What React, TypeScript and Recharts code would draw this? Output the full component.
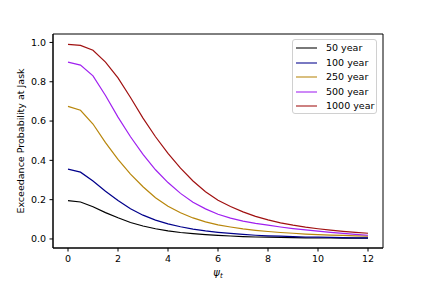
import React from "react";
import {
  LineChart,
  Line,
  XAxis,
  YAxis,
  ReferenceArea,
  Label,
} from "recharts";

const psi = [0, 0.5, 1, 1.5, 2, 2.5, 3, 3.5, 4, 4.5, 5, 5.5, 6, 6.5, 7, 7.5, 8, 8.5, 9, 9.5, 10, 10.5, 11, 11.5, 12];

const year50 = [0.195, 0.188, 0.164, 0.134, 0.108, 0.084, 0.066, 0.052, 0.041, 0.033, 0.027, 0.022, 0.018, 0.015, 0.012, 0.01, 0.009, 0.008, 0.007, 0.006, 0.005, 0.005, 0.004, 0.004, 0.004];
const year100 = [0.355, 0.34, 0.295, 0.243, 0.196, 0.154, 0.121, 0.096, 0.077, 0.062, 0.05, 0.041, 0.034, 0.028, 0.023, 0.019, 0.016, 0.014, 0.012, 0.01, 0.009, 0.008, 0.007, 0.006, 0.006];
const year250 = [0.675, 0.655, 0.585, 0.49, 0.405, 0.33, 0.266, 0.21, 0.166, 0.133, 0.107, 0.087, 0.072, 0.061, 0.051, 0.044, 0.038, 0.033, 0.029, 0.025, 0.022, 0.02, 0.018, 0.016, 0.014];
const year500 = [0.9, 0.885, 0.83, 0.73, 0.62, 0.52, 0.43, 0.352, 0.287, 0.232, 0.187, 0.153, 0.126, 0.106, 0.091, 0.079, 0.07, 0.061, 0.053, 0.046, 0.04, 0.034, 0.028, 0.023, 0.019];
const year1000 = [0.99, 0.985, 0.96, 0.9, 0.82, 0.72, 0.615, 0.52, 0.435, 0.36, 0.295, 0.24, 0.197, 0.165, 0.138, 0.115, 0.097, 0.082, 0.07, 0.06, 0.052, 0.045, 0.039, 0.034, 0.029];

const xTicks = [0, 2, 4, 6, 8, 10, 12];
const yTicks = [0, 0.2, 0.4, 0.6, 0.8, 1.0];

const seriesNames = ["50 year", "100 year", "250 year", "500 year", "1000 year"];
const seriesKeys = ["y50", "y100", "y250", "y500", "y1000"];
const seriesColors = ["#000000", "#00008b", "#b8860b", "#a020f0", "#a01010"];

const data = psi.map((p, i) => ({
  psi: p,
  y50: year50[i],
  y100: year100[i],
  y250: year250[i],
  y500: year500[i],
  y1000: year1000[i],
}));

const font = "'DejaVu Sans', sans-serif";
const xDomain = [-0.6, 12.6];
const yDomain = [-0.046, 1.043];

export default function App() {
  return (
    <div style={{ position: "absolute", left: 0, top: 0, width: 425, height: 284, background: "#fff", fontFamily: font }}>
      <LineChart
        width={425}
        height={284}
        data={data}
        margin={{ top: 34, right: 42, left: 13, bottom: 6 }}
      >
        <XAxis
          dataKey="psi"
          type="number"
          domain={xDomain}
          ticks={xTicks}
          allowDataOverflow
          height={30}
          tickSize={3.5}
          tickMargin={4}
          stroke="#000"
          tick={{ fill: "#000", fontSize: 9.5, fontFamily: font }}
        >
          <Label
            content={() => (
              <text x={218} y={276} textAnchor="middle" fontFamily={font} fontSize={10} fontStyle="italic" style={{ fill: "#000" }}>
                ψ<tspan fontSize={7} dy={2}>t</tspan>
              </text>
            )}
          />
        </XAxis>
        <YAxis
          type="number"
          domain={yDomain}
          ticks={yTicks}
          allowDataOverflow
          width={40}
          tickSize={3.5}
          tickMargin={3.5}
          stroke="#000"
          tickFormatter={(v: number) => v.toFixed(1)}
          tick={{ fill: "#000", fontSize: 9.5, fontFamily: font }}
        >
          <Label
            content={() => (
              <text
                x={24}
                y={141}
                textAnchor="middle"
                transform="rotate(-90 24 141)"
                fontFamily={font}
                fontSize={9.5}
                style={{ fill: "#000" }}
              >
                Exceedance Probability at Jask
              </text>
            )}
          />
        </YAxis>
        <ReferenceArea
          x1={xDomain[0]}
          x2={xDomain[1]}
          y1={yDomain[0]}
          y2={yDomain[1]}
          fill="none"
          stroke="#000"
          strokeWidth={1}
          ifOverflow="visible"
        />
        {seriesKeys.map((k, i) => (
          <Line
            key={k}
            type="linear"
            dataKey={k}
            name={seriesNames[i]}
            stroke={seriesColors[i]}
            strokeWidth={1.2}
            dot={false}
            isAnimationActive={false}
          />
        ))}
      </LineChart>
      <div
        style={{
          position: "absolute",
          left: 292,
          top: 39,
          width: 85,
          height: 75,
          boxSizing: "border-box",
          border: "1px solid #d0d0d0",
          borderRadius: 3,
          background: "rgba(255,255,255,0.8)",
        }}
      >
        {seriesNames.map((name, i) => (
          <div
            key={name}
            style={{ position: "absolute", left: 3, top: 1 + i * 14.5, height: 14, display: "flex", alignItems: "center" }}
          >
            <svg width={22} height={4} style={{ display: "block" }}>
              <line x1={0} y1={2} x2={21} y2={2} stroke={seriesColors[i]} strokeWidth={1.5} strokeOpacity={0.7} />
            </svg>
            <span style={{ marginLeft: 8, fontSize: 9.5, color: "#000", whiteSpace: "nowrap", lineHeight: "14px" }}>{name}</span>
          </div>
        ))}
      </div>
    </div>
  );
}
